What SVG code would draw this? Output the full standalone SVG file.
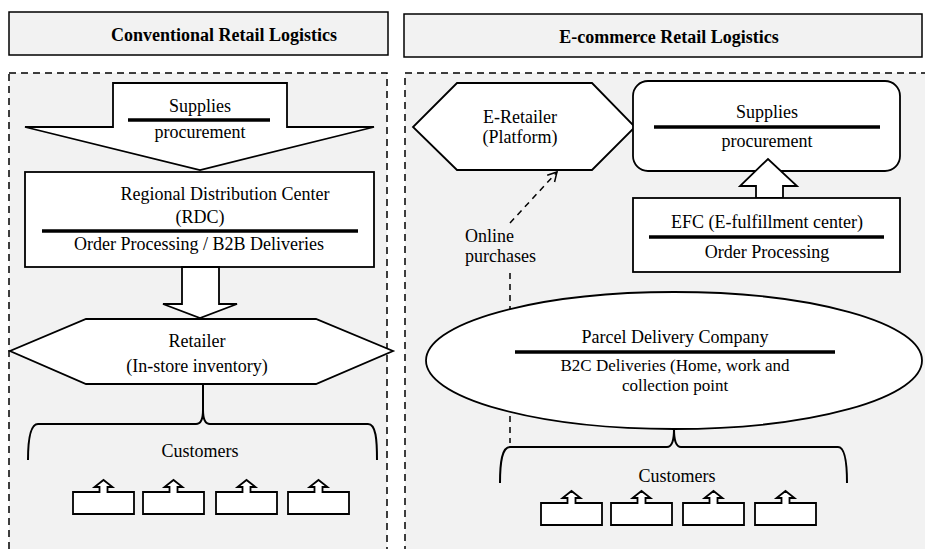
<svg xmlns="http://www.w3.org/2000/svg" width="925" height="549" viewBox="0 0 925 549">
<defs>
<style>
.t{font-family:"Liberation Serif","Times New Roman",serif;font-size:18px;fill:#000;text-anchor:middle}
.b{font-weight:bold}
.s{font-size:17px}
.hdr{fill:#f2f2f2;stroke:#000;stroke-width:1.5}
.panel{fill:#f2f2f2;stroke:#000;stroke-width:1.5;stroke-dasharray:7,5}
.shape{fill:#fff;stroke:#000;stroke-width:1.8}
.sep{stroke:#000;stroke-width:3.5}
.brace{fill:none;stroke:#000;stroke-width:2}
.dash{fill:none;stroke:#000;stroke-width:1.5;stroke-dasharray:6,5}
</style>
<path id="cust" d="M0,0 H26.5 V-5 H21.5 L30.5,-12 L39.5,-5 H34.5 V0 H61 V22 H0 Z" fill="#fff" stroke="#000" stroke-width="1.8"/>
<marker id="open" markerWidth="14" markerHeight="14" refX="10" refY="6" orient="auto" markerUnits="userSpaceOnUse">
<path d="M1,1 L10,6 L1,11" fill="none" stroke="#000" stroke-width="1.5"/>
</marker>
</defs>
<rect width="925" height="549" fill="#fff"/>

<g id="header-left">
<rect class="hdr" x="9" y="12" width="379" height="43"/>
<text class="t b" x="224" y="41">Conventional Retail Logistics</text>
</g>
<g id="header-right">
<rect class="hdr" x="404" y="14" width="518" height="43"/>
<text class="t b" x="669" y="43">E-commerce Retail Logistics</text>
</g>

<g id="panel-left"><rect class="panel" x="9" y="73" width="378" height="490"/></g>
<g id="panel-right"><rect class="panel" x="405" y="73" width="530" height="490"/></g>

<g id="connectors">
<path class="dash" d="M510,273 V443"/>
<path class="dash" d="M510,223 L557,172" marker-end="url(#open)"/>
<path class="brace" d="M28,460 C28,440 30,424 38,424 L196,424 C200,424 203,420 203,410 C203,420 206,424 210,424 L368,424 C376,424 377,440 377,460"/>
<path class="brace" d="M203,384 V412"/>
<path class="brace" d="M500,483 C500,462 502,447 510,447 L667,447 C671,447 674,442 674,429 C674,442 677,447 681,447 L838,447 C845,447 847,462 847,483"/>
</g>

<g id="supplies-left">
<polygon class="shape" points="113,83 287,83 287,127 374,127 200,170 25,127 113,127"/>
<text class="t" x="200" y="112">Supplies</text>
<line class="sep" x1="128" y1="120" x2="270" y2="120"/>
<text class="t" x="200" y="138">procurement</text>
</g>

<g id="rdc">
<rect class="shape" x="25" y="172" width="349" height="95"/>
<text class="t" x="225" y="200">Regional Distribution Center</text>
<text class="t" x="200" y="223">(RDC)</text>
<line class="sep" x1="42" y1="231" x2="358" y2="231"/>
<text class="t" x="199" y="250">Order Processing / B2B Deliveries</text>
</g>

<g id="arrow-rdc-retailer">
<polygon class="shape" points="182,267 219,267 219,304 237,304 200,318 163,304 182,304"/>
</g>

<g id="retailer">
<polygon class="shape" points="86,319 316,319 393,351 316,384 86,384 10,351"/>
<text class="t" x="197" y="347">Retailer</text>
<text class="t" x="197" y="372">(In-store inventory)</text>
</g>

<g id="customers-left">
<text class="t" x="200" y="457">Customers</text>
<use href="#cust" x="73" y="492"/>
<use href="#cust" x="143" y="492"/>
<use href="#cust" x="216" y="492"/>
<use href="#cust" x="288" y="492"/>
</g>

<g id="e-retailer">
<polygon class="shape" points="457,83 592,83 635,127 592,170 457,170 413,127"/>
<text class="t" x="520" y="123">E-Retailer</text>
<text class="t" x="520" y="143">(Platform)</text>
</g>

<g id="online-label">
<text class="t" x="465" y="242" style="text-anchor:start">Online</text>
<text class="t" x="465" y="262" style="text-anchor:start">purchases</text>
</g>

<g id="supplies-right">
<rect class="shape" x="633" y="81" width="267" height="90" rx="15"/>
<text class="t" x="767" y="118">Supplies</text>
<line class="sep" x1="654" y1="127" x2="880" y2="127"/>
<text class="t" x="767" y="147">procurement</text>
</g>

<g id="arrow-efc-supplies">
<polygon class="shape" points="756,198 756,186 740,186 768,159 797,186 783,186 783,198"/>
</g>

<g id="efc">
<rect class="shape" x="633" y="198" width="267" height="74"/>
<text class="t" x="767" y="228">EFC (E-fulfillment center)</text>
<line class="sep" x1="649" y1="237" x2="884" y2="237"/>
<text class="t" x="767" y="258">Order Processing</text>
</g>

<g id="parcel">
<ellipse class="shape" cx="674" cy="360.5" rx="248" ry="68.5"/>
<text class="t" x="675" y="343">Parcel Delivery Company</text>
<line class="sep" x1="515" y1="352" x2="835" y2="352"/>
<text class="t s" x="675" y="371">B2C Deliveries (Home, work and</text>
<text class="t s" x="675" y="391">collection point</text>
</g>

<g id="customers-right">
<text class="t" x="677" y="482">Customers</text>
<use href="#cust" x="541" y="503"/>
<use href="#cust" x="611" y="503"/>
<use href="#cust" x="683" y="503"/>
<use href="#cust" x="755" y="503"/>
</g>
</svg>
